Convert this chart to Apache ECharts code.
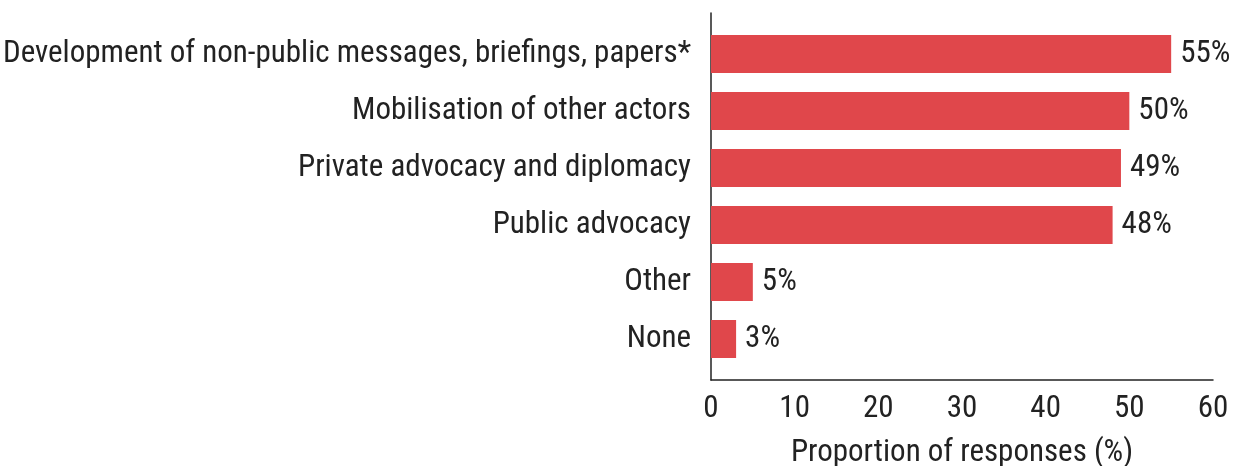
<!DOCTYPE html>
<html><head><meta charset="utf-8">
<script src="https://cdn.jsdelivr.net/npm/echarts@6/dist/echarts.min.js"></script>
<style>html,body{margin:0;padding:0;background:#fff}#c{width:1240px;height:466px}</style>
</head><body><div id="c"></div>
<script>
const categories = ["Development of non-public messages, briefings, papers*","Mobilisation of other actors","Private advocacy and diplomacy","Public advocacy","Other","None"];
const values = [55, 50, 49, 48, 5, 3];
const xTicks = [0, 10, 20, 30, 40, 50, 60];
const axisTitle = "Proportion of responses (%)";

const FONT = "'Roboto Condensed', Roboto";
const TXT = "#222";
const FS = 31;
const chart = echarts.init(document.getElementById('c'));
chart.setOption({
  animation: false,
  textStyle: {fontFamily: FONT},
  grid: [
    {left: 711, right: 27, top: 25.5, bottom: 98.5, containLabel: false, outerBoundsMode: 'none'},
    {left: 711, right: 27, top: 13, bottom: 86, containLabel: false, outerBoundsMode: 'none'}
  ],
  xAxis: [
    {gridIndex: 0, type: 'value', min: xTicks[0], max: xTicks[xTicks.length-1], interval: 10, show: false},
    {gridIndex: 1, type: 'value', min: xTicks[0], max: xTicks[xTicks.length-1], interval: 10,
     axisLine: {show: true, lineStyle: {color: '#222', width: 1.5}}, axisTick: {show: false}, splitLine: {show: false},
     axisLabel: {color: TXT, fontSize: FS, margin: 14, fontFamily: FONT},
     name: axisTitle, nameLocation: 'middle', nameGap: 58,
     nameTextStyle: {color: TXT, fontSize: FS, fontFamily: FONT}}
  ],
  yAxis: [
    {gridIndex: 0, type: 'category', data: categories, inverse: true,
     axisLine: {show: false}, axisTick: {show: false},
     axisLabel: {color: TXT, fontSize: FS, margin: 20, fontFamily: FONT}},
    {gridIndex: 1, type: 'value', min: 0, max: 1, axisLabel: {show: false}, splitLine: {show: false}, axisTick: {show: false},
     axisLine: {show: true, lineStyle: {color: '#222', width: 1.5}}}
  ],
  series: [{
    type: 'bar', xAxisIndex: 0, yAxisIndex: 0, data: values,
    barCategoryGap: '33.3%',
    itemStyle: {color: '#E0474B'},
    label: {show: true, position: 'right', distance: 9, formatter: '{c}%', color: TXT, fontSize: FS, fontFamily: FONT}
  }]
});
</script></body></html>
